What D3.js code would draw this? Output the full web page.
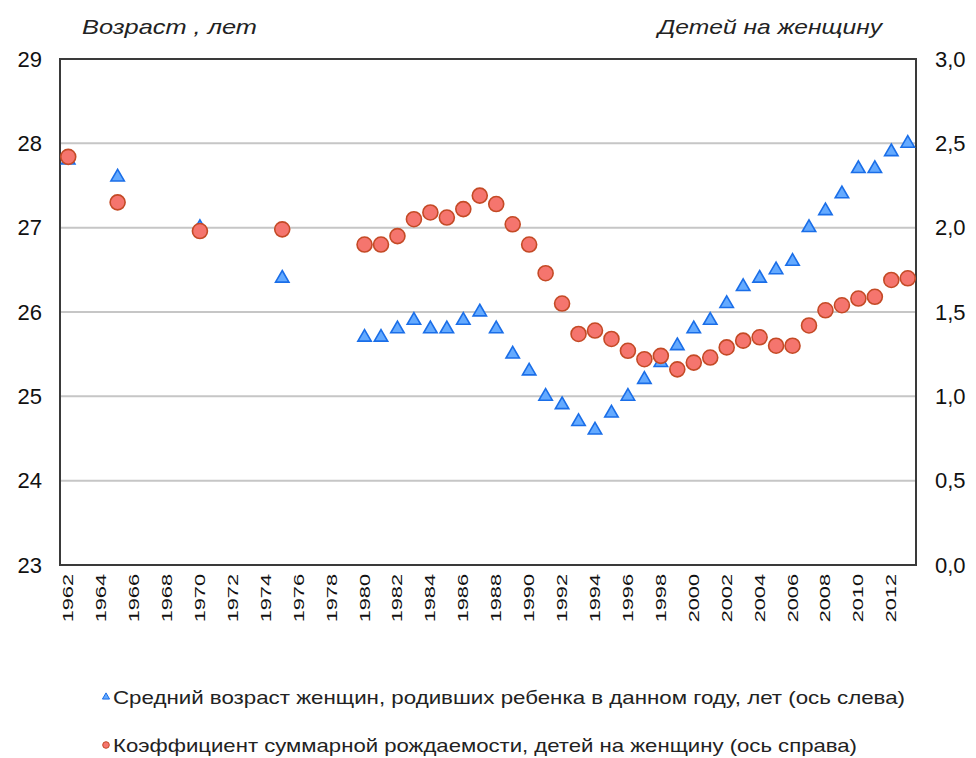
<!DOCTYPE html>
<html><head><meta charset="utf-8">
<script src="https://cdn.jsdelivr.net/npm/d3@7"></script>
<style>body{margin:0;background:#fff;} svg{display:block;font-family:"Liberation Sans",Arial,sans-serif;}</style>
</head><body>
<script>
const allYears = d3.range(1962, 2014);
const tickYears = d3.range(1962, 2013, 2);
const pointYears = [1962,1965,1970,1975,1980,1981,1982,1983,1984,1985,1986,1987,1988,1989,1990,1991,1992,1993,1994,1995,1996,1997,1998,1999,2000,2001,2002,2003,2004,2005,2006,2007,2008,2009,2010,2011,2012,2013];
const ageValues = [27.8,27.6,27.0,26.4,25.7,25.7,25.8,25.9,25.8,25.8,25.9,26.0,25.8,25.5,25.3,25.0,24.9,24.7,24.6,24.8,25.0,25.2,25.4,25.6,25.8,25.9,26.1,26.3,26.4,26.5,26.6,27.0,27.2,27.4,27.7,27.7,27.9,28.0];
const tfrValues = [2.42,2.15,1.98,1.99,1.90,1.90,1.95,2.05,2.09,2.06,2.11,2.19,2.14,2.02,1.90,1.73,1.55,1.37,1.39,1.34,1.27,1.22,1.24,1.16,1.20,1.23,1.29,1.33,1.35,1.30,1.30,1.42,1.51,1.54,1.58,1.59,1.69,1.70];
const leftTicks = [23,24,25,26,27,28,29];
const rightTicks = [0,0.5,1,1.5,2,2.5,3];
const leftTitle = "Возраст ,  лет";
const rightTitle = "Детей на женщину";
const legendLabels = ["Средний  возраст женщин, родивших ребенка  в данном году, лет (ось слева)",
                      "Коэффициент  суммарной рождаемости, детей на женщину (ось справа)"];

const W = 976, H = 758;
const L = 60, R = 916, T = 59, B = 565;
const svg = d3.select("body").append("svg").attr("width", W).attr("height", H);

const x = d3.scaleBand().domain(allYears).range([L, R]);
const yL = d3.scaleLinear().domain([23, 29]).range([B, T]);
const yR = d3.scaleLinear().domain([0, 3]).range([B, T]);

// gridlines
svg.append("g").selectAll("line").data(leftTicks.slice(1, -1)).join("line")
  .attr("x1", L).attr("x2", R).attr("y1", d => yL(d)).attr("y2", d => yL(d))
  .attr("stroke", "#c6c6c6").attr("stroke-width", 2);

// frame
svg.append("rect").attr("x", L).attr("y", T).attr("width", R - L).attr("height", B - T)
  .attr("fill", "none").attr("stroke", "#3a3a3a").attr("stroke-width", 2);

// left axis
const gL = svg.append("g").attr("transform", `translate(${L},0)`)
  .call(d3.axisLeft(yL).tickValues(leftTicks).tickSize(0).tickPadding(18).tickFormat(d3.format("d")));
gL.select(".domain").remove();
gL.selectAll("text").attr("font-size", 22).attr("fill", "#111").attr("font-family", "Liberation Sans, Arial, sans-serif");

// right axis
const fmtR = d => d.toFixed(1).replace(".", ",");
const gR = svg.append("g").attr("transform", `translate(${R},0)`)
  .call(d3.axisRight(yR).tickValues(rightTicks).tickSize(0).tickPadding(19).tickFormat(fmtR));
gR.select(".domain").remove();
gR.selectAll("text").attr("font-size", 22).attr("fill", "#111").attr("font-family", "Liberation Sans, Arial, sans-serif");

// bottom axis
const gB = svg.append("g").attr("transform", `translate(0,${B})`)
  .call(d3.axisBottom(x).tickValues(tickYears).tickSize(0).tickPadding(0));
gB.select(".domain").remove();
gB.selectAll("text")
  .attr("font-size", 15).attr("fill", "#111").attr("font-family", "Liberation Sans, Arial, sans-serif")
  .attr("text-anchor", "end").attr("dy", null).attr("y", 0).attr("x", 0)
  .attr("transform", "translate(5,9) rotate(-90) scale(1.45,1)");

// titles
svg.append("text").attr("x", 82).attr("y", 34).attr("font-size", 21).attr("font-style", "italic")
  .attr("fill", "#222").attr("textLength", 175).attr("lengthAdjust", "spacingAndGlyphs").text(leftTitle);
svg.append("text").attr("x", 658).attr("y", 34).attr("font-size", 21).attr("font-style", "italic")
  .attr("fill", "#222").attr("textLength", 224).attr("lengthAdjust", "spacingAndGlyphs").text(rightTitle);

const cx = y => x(y) + x.bandwidth() / 2;
const tri = d3.symbol().type(d3.symbolTriangle).size(78);

// triangles (age)
svg.append("g").selectAll("path").data(pointYears).join("path")
  .attr("d", tri)
  .attr("transform", (d, i) => `translate(${cx(d)},${yL(ageValues[i])})`)
  .attr("fill", "#64aaff").attr("stroke", "#1a6ee8").attr("stroke-width", 1.6);

// circles (tfr)
svg.append("g").selectAll("circle").data(pointYears).join("circle")
  .attr("cx", d => cx(d)).attr("cy", (d, i) => yR(tfrValues[i])).attr("r", 7.5)
  .attr("fill", "#f5756e").attr("stroke", "#c44a26").attr("stroke-width", 1.6);

// legend
const lg = svg.append("g");
lg.append("path").attr("d", d3.symbol().type(d3.symbolTriangle).size(22))
  .attr("transform", "translate(106,697)").attr("fill", "#64aaff").attr("stroke", "#1a6ee8").attr("stroke-width", 1);
lg.append("text").attr("x", 113).attr("y", 704).attr("font-size", 19).attr("fill", "#222")
  .attr("textLength", 792).attr("lengthAdjust", "spacingAndGlyphs").text(legendLabels[0]);
lg.append("circle").attr("cx", 106).attr("cy", 745).attr("r", 3.3)
  .attr("fill", "#f5756e").attr("stroke", "#c44a26").attr("stroke-width", 1);
lg.append("text").attr("x", 113).attr("y", 752).attr("font-size", 19).attr("fill", "#222")
  .attr("textLength", 744).attr("lengthAdjust", "spacingAndGlyphs").text(legendLabels[1]);
</script>
</body></html>
